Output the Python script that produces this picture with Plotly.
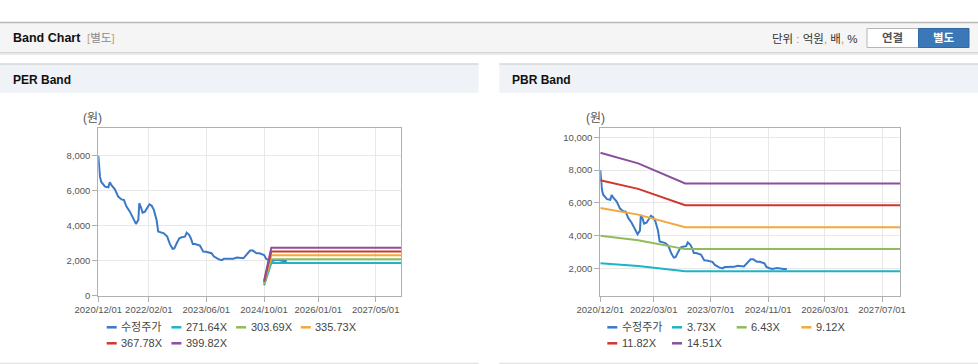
import plotly.graph_objects as go

W, H = 978, 364

# ---------------- data ----------------
price_name = "수정주가"
price_dates = [
    "2020-12-01", "2020-12-07", "2020-12-15", "2020-12-26", "2021-01-27", "2021-02-24", "2021-03-08",
    "2021-03-22", "2021-04-20", "2021-05-18", "2021-06-15", "2021-07-05", "2021-07-27",
    "2021-08-25", "2021-09-22", "2021-10-15", "2021-11-04", "2021-11-12", "2021-11-26",
    "2021-12-10", "2021-12-30", "2022-01-19", "2022-02-06", "2022-02-25", "2022-03-15",
    "2022-04-07", "2022-04-21", "2022-05-19", "2022-06-08", "2022-07-06", "2022-07-28",
    "2022-08-20", "2022-09-04", "2022-09-24", "2022-10-16", "2022-11-05", "2022-12-03",
    "2022-12-17", "2023-01-07", "2023-01-21", "2023-02-07", "2023-02-26", "2023-04-08",
    "2023-05-06", "2023-05-28", "2023-07-15", "2023-08-05", "2023-09-11", "2023-10-09",
    "2023-10-28", "2023-11-20", "2024-01-16", "2024-02-14", "2024-03-12", "2024-04-09",
    "2024-06-05", "2024-06-27", "2024-07-30", "2024-08-22", "2024-10-01", "2024-10-18",
    "2024-11-07", "2024-12-05", "2025-01-17", "2025-02-14", "2025-03-13", "2025-04-10",
]
price_values = [
    8000, 7180, 6800, 6500, 6230, 6190, 6480,
    6320, 6080, 5660, 5500, 5470, 5090,
    4800, 4420, 4100, 4320, 5280, 5050,
    4740, 4800, 4990, 5220, 5140, 4900,
    4320, 3660, 3600, 3560, 3370, 2950,
    2670, 2700, 2990, 3280, 3330, 3370,
    3600, 3470, 3280, 2950, 2950, 2860,
    2510, 2500, 2420, 2230, 2080, 2020,
    2100, 2100, 2110, 2170, 2130, 2130,
    2570, 2570, 2420, 2420, 2320, 2100,
    2040, 1980, 2040, 2000, 1980, 1980,
]
price_values = price_values[:len(price_dates)]

per_band_names = ["271.64X", "303.69X", "335.73X", "367.78X", "399.82X"]
per_band_dates = ["2024-10-01", "2024-12-01", "2027-12-01"]
per_band_values = [
    [580, 1860, 1860],
    [650, 2080, 2080],
    [715, 2300, 2300],
    [780, 2520, 2520],
    [850, 2740, 2740],
]

pbr_band_names = ["3.73X", "6.43X", "9.12X", "11.82X", "14.51X"]
pbr_band_dates = ["2020-12-01", "2021-10-20", "2022-11-25", "2027-12-01"]
pbr_band_values = [
    [2330, 2160, 1850, 1850],
    [4010, 3730, 3190, 3190],
    [5690, 5290, 4520, 4520],
    [7380, 6860, 5860, 5860],
    [9060, 8410, 7190, 7190],
]

per_ticks = ["2020-12-01", "2022-02-01", "2023-06-01", "2024-10-01", "2026-01-01", "2027-05-01"]
pbr_ticks = ["2020-12-01", "2022-03-01", "2023-07-01", "2024-11-01", "2026-03-01", "2027-07-01"]
per_yticks = [0, 2000, 4000, 6000, 8000]
pbr_yticks = [2000, 4000, 6000, 8000, 10000]

colors = ["#3a78c8", "#1cb4c6", "#8fbc58", "#f2a93b", "#d0372e", "#8b4f9c"]

FONT = "Liberation Sans, Noto Sans CJK KR, Arial, sans-serif"

# ---------------- helpers ----------------
def px(x):
    return x / W

def py(y):
    return 1 - y / H

fig = go.Figure()

# traces PER
fig.add_trace(go.Scatter(x=price_dates, y=price_values, mode="lines", name=price_name,
                         line=dict(color=colors[0], width=2), xaxis="x", yaxis="y", showlegend=False))
for i, (n, v) in enumerate(zip(per_band_names, per_band_values)):
    fig.add_trace(go.Scatter(x=per_band_dates, y=v, mode="lines", name=n,
                             line=dict(color=colors[i + 1], width=2), xaxis="x", yaxis="y", showlegend=False))
# traces PBR
fig.add_trace(go.Scatter(x=price_dates, y=price_values, mode="lines", name=price_name,
                         line=dict(color=colors[0], width=2), xaxis="x2", yaxis="y2", showlegend=False))
for i, (n, v) in enumerate(zip(pbr_band_names, pbr_band_values)):
    fig.add_trace(go.Scatter(x=pbr_band_dates, y=v, mode="lines", name=n,
                             line=dict(color=colors[i + 1], width=2), xaxis="x2", yaxis="y2", showlegend=False))

axis_common = dict(showline=True, mirror=True, linecolor="#b0b0b0", linewidth=1,
                   gridcolor="#e8e8e8", gridwidth=1, zeroline=False, automargin=False,
                   ticks="outside", ticklen=5, tickcolor="#b0b0b0", tickangle=0,
                   tickfont=dict(family=FONT, size=9.5, color="#555555"))

ydom = [py(295.5), py(128.3)]
fig.update_layout(
    width=W, height=H,
    margin=dict(l=0, r=0, t=0, b=0, autoexpand=False),
    paper_bgcolor="white", plot_bgcolor="white",
    showlegend=False,
    xaxis=dict(domain=[px(98.3), px(401)], type="date", range=["2020-12-01", "2027-12-01"],
               tickvals=per_ticks, ticktext=[t.replace("-", "/") for t in per_ticks], anchor="y",
               **axis_common),
    yaxis=dict(domain=ydom, range=[0, 9570], tickvals=per_yticks, tickformat=",d", anchor="x",
               **axis_common),
    xaxis2=dict(domain=[px(600.3), px(900)], type="date", range=["2020-12-01", "2027-12-01"],
                tickvals=pbr_ticks, ticktext=[t.replace("-", "/") for t in pbr_ticks], anchor="y2",
                **axis_common),
    yaxis2=dict(domain=ydom, range=[366, 10547], tickvals=pbr_yticks, tickformat=",d", anchor="x2",
                **axis_common),
)

shapes = []
annotations = []

def rect(x0, y0, x1, y1, fill, line=None, lw=0, layer="below"):
    shapes.append(dict(type="rect", xref="paper", yref="paper",
                       x0=px(x0), x1=px(x1), y0=py(y1), y1=py(y0),
                       fillcolor=fill, line=dict(width=lw, color=line or fill), layer=layer))

def hline(x0, x1, y, color, w=1):
    shapes.append(dict(type="line", xref="paper", yref="paper", x0=px(x0), x1=px(x1),
                       y0=py(y), y1=py(y), line=dict(color=color, width=w), layer="below"))

def text(x, y, s, size=12, color="#222", bold=False, anchor="left"):
    if bold:
        s = "<b>" + s + "</b>"
    annotations.append(dict(xref="paper", yref="paper", x=px(x), y=py(y), text=s, showarrow=False,
                            xanchor=anchor, yanchor="middle",
                            font=dict(family=FONT, size=size, color=color)))

# top header bar
rect(0, 22, W, 52.5, "#f5f5f5")
hline(0, W, 22.5, "#b8b8b8", 1.5)
hline(0, W, 52.8, "#c4c4c4", 1)
hline(0, W, 54, "#e6e6e6", 1.5)
text(11, 38, "Band Chart", size=12.5, color="#111", bold=True)
text(85, 38.5, '<span style="color:#c9a27a">[</span><span style="color:#888">별도</span><span style="color:#c9a27a">]</span>',
     size=11.5)
text(770, 39, '단위 <span style="color:#d08a2a">:</span> 억원<span style="color:#d08a2a">,</span> 배<span style="color:#d08a2a">,</span> %',
     size=11.5, color="#333")
# buttons
shapes.append(dict(type="rect", xref="paper", yref="paper", x0=px(867), x1=px(918.5), y0=py(47.5), y1=py(28.5),
                   fillcolor="white", line=dict(color="#b5b5b5", width=1), layer="below"))
shapes.append(dict(type="rect", xref="paper", yref="paper", x0=px(918.5), x1=px(969), y0=py(47.5), y1=py(28.5),
                   fillcolor="#3a78b8", line=dict(color="#2f69a6", width=1), layer="below"))
text(892.7, 38.5, "연결", size=11.5, color="#555", bold=True, anchor="center")
text(943.7, 38.5, "별도", size=11.5, color="white", bold=True, anchor="center")

# panel headers
for x0, x1, title in [(0, 478.5, "PER Band"), (499.3, W, "PBR Band")]:
    rect(x0, 64, x1, 92.7, "#eff2f7")
    hline(x0, x1, 64, "#d6d6d6", 1.5)
    hline(x0, x1, 363.3, "#dcdcdc", 1)
    text(x0 + 11, 80, title, size=12, color="#111", bold=True)

# unit labels
text(92, 118.3, "(원)", size=12, color="#555", anchor="center")
text(595, 118.3, "(원)", size=12, color="#555", anchor="center")

# manual legends
def legend(x_start, names):
    col_w = 64.7
    for k, n in enumerate(names):
        row, col = divmod(k, 4)
        xx = x_start + col * col_w
        yy = 327.3 + row * 16
        hline(xx, xx + 10, yy, colors[k], 2.5)
        text(xx + 12.5, yy, n, size=11, color="#444")

legend(106.7, [price_name] + per_band_names)
legend(607.3, [price_name] + pbr_band_names)

fig.update_layout(shapes=shapes, annotations=annotations)
fig.write_html("out.html",
               config={"displayModeBar": False},
               post_script="document.body.style.margin='0';document.body.style.padding='0';"
                           "document.body.style.overflow='hidden';")
